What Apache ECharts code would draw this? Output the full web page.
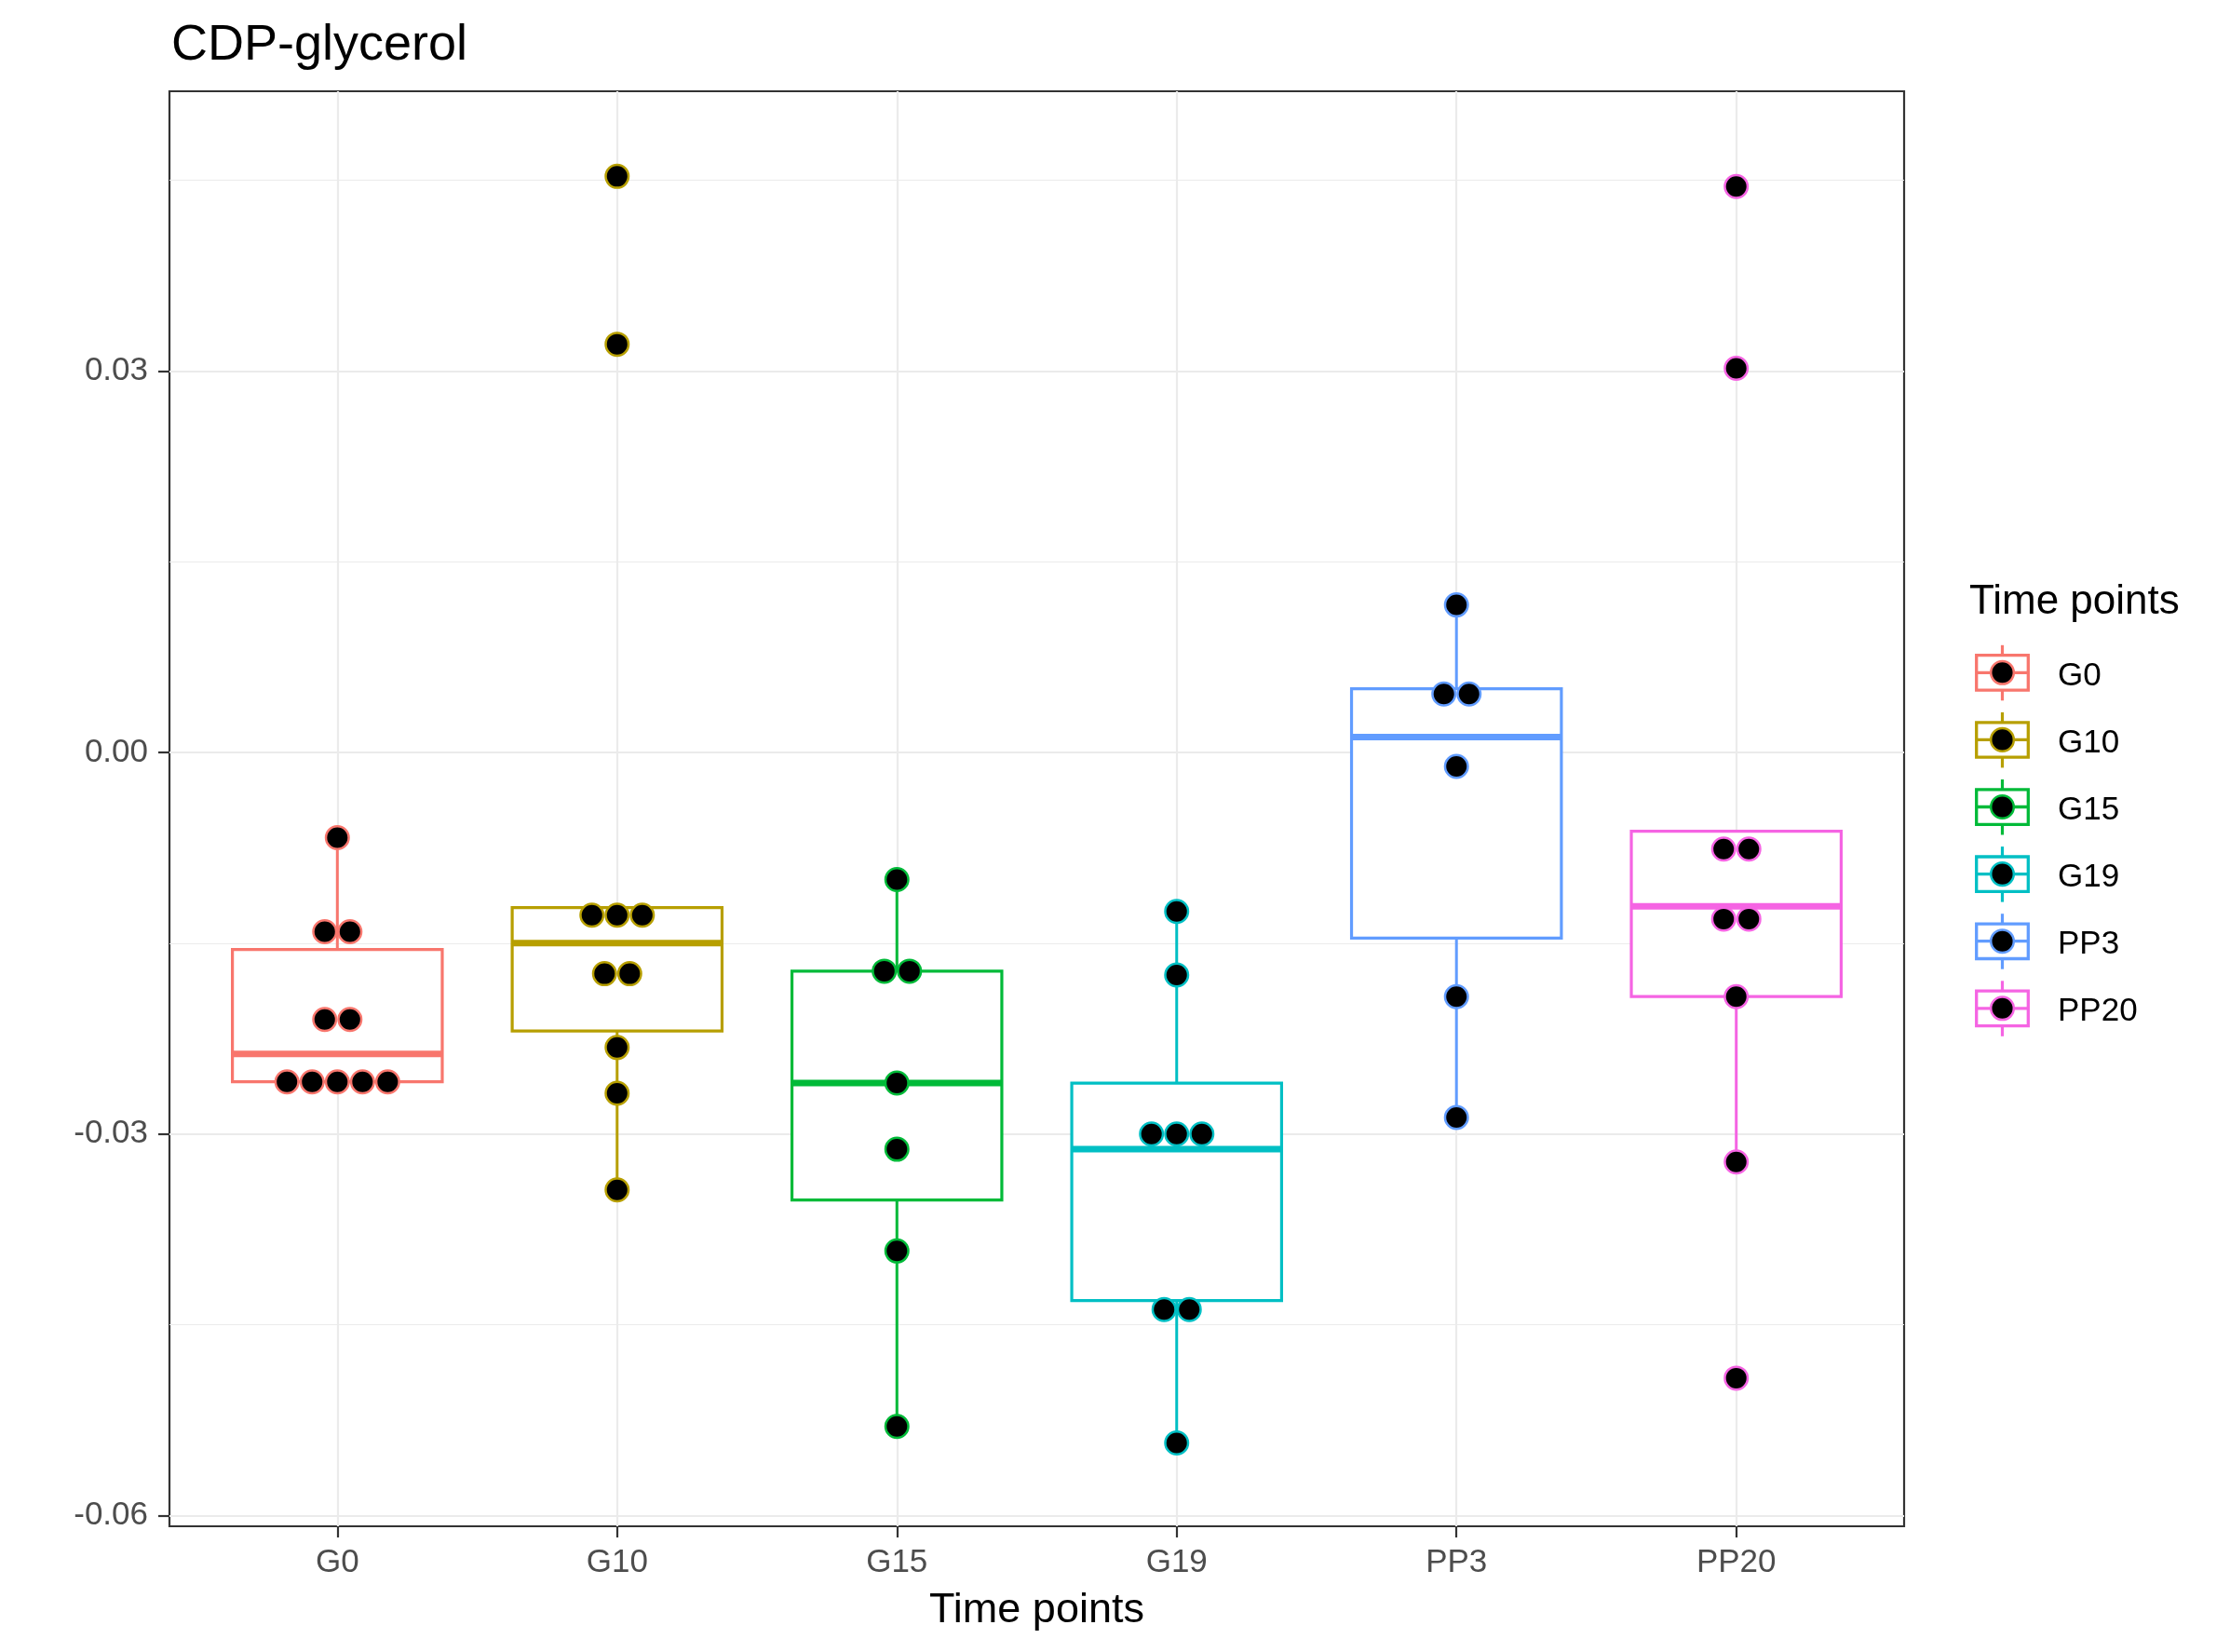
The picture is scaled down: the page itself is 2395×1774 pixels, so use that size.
<!DOCTYPE html>
<html><head><meta charset="utf-8">
<script src="https://cdn.jsdelivr.net/npm/echarts@6/dist/echarts.min.js"></script>
<style>html,body{margin:0;padding:0;background:#fff}#c{width:2395px;height:1774px}</style>
</head><body><div id="c"></div>
<script>
// ---- data ----
const categories = ['G0', 'G10', 'G15', 'G19', 'PP3', 'PP20'];
const colors = ['#F8766D', '#B79F00', '#00BA38', '#00BFC4', '#619CFF', '#F564E3'];

// dot values (dotplot, one entry per dot)
const dotsG0 = [-0.0067, -0.0141, -0.0141, -0.0210, -0.0210, -0.0259, -0.0259, -0.0259, -0.0259, -0.0259];
const dotsG10 = [0.0453, 0.0321, -0.0128, -0.0128, -0.0128, -0.0174, -0.0174, -0.0232, -0.0268, -0.0344];
const dotsG15 = [-0.0100, -0.0172, -0.0172, -0.0260, -0.0312, -0.0392, -0.0530];
const dotsG19 = [-0.0125, -0.0175, -0.0300, -0.0300, -0.0300, -0.0438, -0.0438, -0.0543];
const dotsPP3 = [0.0116, 0.0046, 0.0046, -0.0011, -0.0192, -0.0287];
const dotsPP20 = [0.0445, 0.0302, -0.0076, -0.0076, -0.0131, -0.0131, -0.0192, -0.0322, -0.0492];

// box statistics
const whiskerLow  = [-0.0259, -0.0344, -0.0530, -0.0543, -0.0287, -0.0322];
const q1          = [-0.0259, -0.0219, -0.0352, -0.0431, -0.0146, -0.0192];
const median      = [-0.0237, -0.0150, -0.0260, -0.0312, 0.0012, -0.0121];
const q3          = [-0.0155, -0.0122, -0.0172, -0.0260, 0.0050, -0.0062];
const whiskerHigh = [-0.0067, -0.0122, -0.0100, -0.0125, 0.0116, -0.0062];

const yTicks = [-0.06, -0.03, 0, 0.03];
const yMinorTicks = [-0.045, -0.015, 0.015, 0.045];

// ---- layout ----
const allDots = [dotsG0, dotsG10, dotsG15, dotsG19, dotsPP3, dotsPP20];
const BOX_HALF = 0.375;
const DOT_STEP = 0.09;
const FONT = '"Liberation Sans", Arial, Helvetica, sans-serif';

const chart = echarts.init(document.getElementById('c'), null, {renderer: 'canvas'});

const boxData = categories.map((c, i) => [i + 1, whiskerLow[i], q1[i], median[i], q3[i], whiskerHigh[i]]);

function stackDots(vals, gi) {
  const counts = {};
  vals.forEach(v => { counts[v] = (counts[v] || 0) + 1; });
  const seen = {};
  return vals.map(v => {
    const k = counts[v];
    const j = seen[v] || 0;
    seen[v] = j + 1;
    return [gi + 1 + (j - (k - 1) / 2) * DOT_STEP, v];
  });
}

const scatterSeries = allDots.map((vals, gi) => ({
  type: 'scatter',
  name: categories[gi],
  data: stackDots(vals, gi),
  symbol: 'circle',
  symbolSize: 24.5,
  itemStyle: {color: '#000', borderColor: colors[gi], borderWidth: 2.5, opacity: 1},
  z: 5,
  silent: true,
  animation: false
}));

const boxSeries = {
  type: 'custom',
  data: boxData,
  encode: {x: 0, y: [1, 2, 3, 4, 5]},
  z: 3,
  silent: true,
  animation: false,
  renderItem: function (params, api) {
    const i = params.dataIndex;
    const x = api.value(0);
    const pLo = api.coord([x, api.value(1)]);
    const pA = api.coord([x, api.value(2)]);
    const pM = api.coord([x, api.value(3)]);
    const pB = api.coord([x, api.value(4)]);
    const pHi = api.coord([x, api.value(5)]);
    const left = api.coord([x - BOX_HALF, 0])[0];
    const right = api.coord([x + BOX_HALF, 0])[0];
    const c = colors[i];
    return {
      type: 'group',
      children: [
        {type: 'line', shape: {x1: pHi[0], y1: pHi[1], x2: pB[0], y2: pB[1]}, style: {stroke: c, lineWidth: 3}},
        {type: 'line', shape: {x1: pA[0], y1: pA[1], x2: pLo[0], y2: pLo[1]}, style: {stroke: c, lineWidth: 3}},
        {type: 'rect', shape: {x: left, y: pB[1], width: right - left, height: pA[1] - pB[1]}, style: {fill: '#fff', stroke: c, lineWidth: 3.2}},
        {type: 'line', shape: {x1: left, y1: pM[1], x2: right, y2: pM[1]}, style: {stroke: c, lineWidth: 7}}
      ]
    };
  }
};

// legend drawn as graphic keys
const legendEls = [{
  type: 'text', x: 2115, y: 647,
  style: {text: 'Time points', fontSize: 44, fontFamily: FONT, fill: '#000', verticalAlign: 'middle'}
}];
categories.forEach((name, i) => {
  const cy = 722.3 + i * 72.1;
  const cx = 2150.5;
  const c = colors[i];
  legendEls.push(
    {type: 'line', shape: {x1: cx, y1: cy - 29.5, x2: cx, y2: cy + 30}, style: {stroke: c, lineWidth: 3.2}},
    {type: 'rect', shape: {x: 2122.7, y: cy - 18.6, width: 55.6, height: 37.4}, style: {fill: '#fff', stroke: c, lineWidth: 3.3}},
    {type: 'line', shape: {x1: 2122.7, y1: cy, x2: 2178.3, y2: cy}, style: {stroke: c, lineWidth: 3.3}},
    {type: 'circle', shape: {cx: cx, cy: cy, r: 12.3}, style: {fill: '#000', stroke: c, lineWidth: 2.5}},
    {type: 'text', x: 2210, y: cy + 4, style: {text: name, fontSize: 35, fontFamily: FONT, fill: '#000', verticalAlign: 'middle'}}
  );
});

const option = {
  backgroundColor: '#fff',
  animation: false,
  title: {
    text: 'CDP-glycerol', left: 179, top: 17,
    textStyle: {fontSize: 54, fontWeight: 'normal', color: '#000', fontFamily: FONT}
  },
  grid: {
    left: 182, right: 350, top: 98, bottom: 135,
    show: true, backgroundColor: '#fff', borderColor: '#333333', borderWidth: 2.2
  },
  xAxis: {
    type: 'value', min: 0.4, max: 6.6, position: 'bottom',
    name: 'Time points', nameLocation: 'middle', nameGap: 68,
    nameTextStyle: {fontSize: 45, color: '#000', fontFamily: FONT},
    axisLine: {show: false, onZero: false},
    axisTick: {show: true, length: 12, customValues: [1, 2, 3, 4, 5, 6], lineStyle: {color: '#333333', width: 2.2}},
    axisLabel: {
      show: true, customValues: [1, 2, 3, 4, 5, 6], margin: 22,
      fontSize: 35, color: '#4D4D4D', fontFamily: FONT,
      formatter: v => categories[Math.round(v) - 1]
    },
    splitLine: {show: true, lineStyle: {color: '#EBEBEB', width: 2.2}}
  },
  yAxis: [{
    type: 'value', min: -0.06085, max: 0.05199,
    axisLine: {show: false, onZero: false},
    axisTick: {show: true, length: 12, customValues: yTicks, lineStyle: {color: '#333333', width: 2.2}},
    axisLabel: {
      show: true, customValues: yTicks, margin: 23,
      fontSize: 35, color: '#4D4D4D', fontFamily: FONT,
      formatter: v => v.toFixed(2)
    },
    splitLine: {show: true, lineStyle: {color: '#EBEBEB', width: 2.2}}
  }, {
    type: 'value', min: -0.06085, max: 0.05199, position: 'left',
    axisLine: {show: false, onZero: false},
    axisTick: {show: false, customValues: yMinorTicks},
    axisLabel: {show: false, customValues: yMinorTicks},
    splitLine: {show: true, lineStyle: {color: '#EBEBEB', width: 1.1}}
  }],
  series: [boxSeries].concat(scatterSeries),
  graphic: {elements: legendEls}
};
chart.setOption(option);
</script>
</body></html>
